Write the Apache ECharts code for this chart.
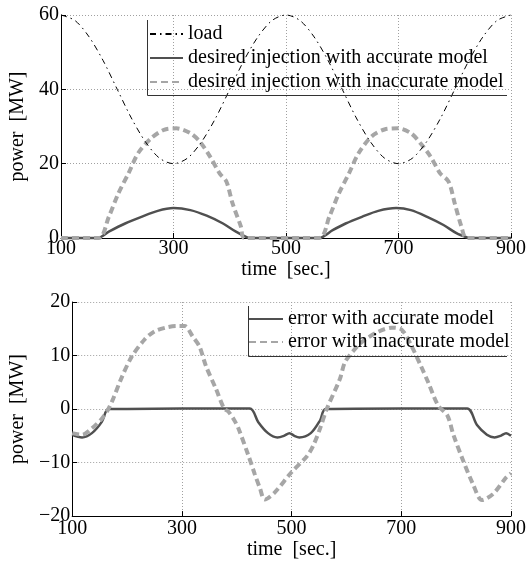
<!DOCTYPE html>
<html>
<head>
<meta charset="utf-8">
<script src="https://cdn.jsdelivr.net/npm/echarts@6/dist/echarts.min.js"></script>
<style>
html,body{margin:0;padding:0;background:#fff;}
#c{width:529px;height:561px;}
</style>
</head>
<body>
<div id="c"></div>
<script>
// ---------- data ----------
const xTicks = [100, 300, 500, 700, 900];

// top panel
const loadT = [100,125,150,175,200,225,250,275,300,325,350,375,400,425,450,475,500,525,550,575,600,625,650,675,700,725,750,775,800,825,850,875,900];
const loadV = [60,58.5,54.1,47.7,40,32.3,25.9,21.5,20,21.5,25.9,32.3,40,47.7,54.1,58.5,60,58.5,54.1,47.7,40,32.3,25.9,21.5,20,21.5,25.9,32.3,40,47.7,54.1,58.5,60];

const accT = [100,165,185,214,243,272,300,330,359,388,411,429,436,559,583,606,635,664,696,722,751,780,803,821,828,900];
const accV = [0,0,1.7,3.9,5.7,7.3,8.05,7.5,6.0,3.9,1.7,0.3,0,0,2.1,3.9,5.7,7.3,8.05,7.5,5.7,3.5,1.3,0.2,0,0];

const inaT = [100,167,185,202,220,237,260,283,305,330,347,365,382,394,405,420,426,559,577,594,612,629,652,675,699,722,739,757,774,789,800,812,821,900];
const inaV = [0,0,5.7,12.0,17.4,22.8,26.8,29.1,29.5,28.2,25.9,21.9,17.4,15.2,9.3,3.0,0,0,5.7,12.0,17.4,22.8,27.3,29.2,29.5,28.2,25.5,21.9,17.4,15.2,9.3,3.0,0,0];

// bottom panel
const errAT = [100,118,136,154,166,200,300,424,439,457,474,486,496,505,514,535,552,562,700,820,838,856,870,881,891,900];
const errAV = [-4.8,-5.3,-4.5,-2.4,0,0,0.1,0.1,-2.4,-4.5,-5.3,-5.0,-4.5,-5.0,-5.3,-4.5,-2.1,0,0.1,0.1,-3.0,-4.8,-5.3,-5.0,-4.5,-5.0];

const errIT = [100,118,136,154,166,175,189,208,232,250,270,290,305,320,332,344,362,377,385,395,403,421,433,442,451,469,499,528,540,552,564,588,597,612,629,659,683,701,719,736,749,767,784,795,813,831,847,867,891,900];
const errIV = [-4.5,-4.8,-3.6,-1.8,0,2.0,5.6,9.7,13.0,14.5,15.2,15.5,15.5,13.5,11.7,8.0,3.8,0.1,-0.5,-2.0,-3.6,-8.6,-12.2,-14.7,-16.9,-15.6,-11.9,-8.8,-6.7,-3.6,0,5.6,8.7,10.8,12.6,14.5,15.2,14.8,11.7,8.0,5.0,0.7,-1.2,-4.8,-9.7,-14.1,-17.0,-15.9,-12.8,-12.0];

const names = {
  load: 'load',
  acc: 'desired injection with accurate model',
  ina: 'desired injection with inaccurate model',
  errA: 'error with accurate model',
  errI: 'error with inaccurate model'
};

// ---------- helpers ----------
const zip = (t, v) => t.map((x, i) => [x, v[i]]);
const FONT = '"Liberation Serif", "Times New Roman", serif';
const GRIDC = '#a0a0a0';
const DARK = '#505050';
const LIGHT = '#a6a6a6';

function xAxis(gridIndex) {
  return {
    type: 'value', gridIndex, min: 100, max: 900, interval: 200,
    name: 'time  [sec.]', nameLocation: 'middle',
    nameGap: gridIndex === 0 ? 11 : 20,
    nameTextStyle: { fontFamily: FONT, fontSize: 20, color: '#000', verticalAlign: 'top' },
    axisLine: { show: true, onZero: false, lineStyle: { color: '#000', width: 1 } },
    axisTick: { show: true, inside: true, length: 5, lineStyle: { color: '#000' } },
    axisLabel: { fontFamily: FONT, fontSize: 20, color: '#000', margin: gridIndex === 0 ? 1 : 3,
      formatter: v => xTicks.includes(v) ? String(v) : '' },
    splitLine: { show: true, lineStyle: { color: GRIDC, width: 1, type: [1, 2] } }
  };
}
function yAxis(gridIndex, min, max, interval, gap) {
  return {
    type: 'value', gridIndex, min, max, interval,
    name: 'power  [MW]', nameLocation: 'middle', nameGap: gap, nameRotate: 90,
    nameTextStyle: { fontFamily: FONT, fontSize: 20, color: '#000' },
    axisLine: { show: true, onZero: false, lineStyle: { color: '#000', width: 1 } },
    axisTick: { show: true, inside: true, length: 5, lineStyle: { color: '#000' } },
    axisLabel: { fontFamily: FONT, fontSize: 20, color: '#000', margin: 2,
      formatter: v => String(v).replace('-', '\u2212') },
    splitLine: { show: true, lineStyle: { color: GRIDC, width: 1, type: [1, 2] } }
  };
}
function line(name, data, xi, color, width, type, z) {
  return {
    type: 'line', name, data, xAxisIndex: xi, yAxisIndex: xi,
    symbol: 'none', smooth: 0.3, z, clip: false,
    lineStyle: { color, width, type },
    itemStyle: { color },
    emphasis: { disabled: true }, animation: false
  };
}

const chart = echarts.init(document.getElementById('c'), null, { renderer: 'canvas' });
const legendText = { fontFamily: FONT, fontSize: 20, color: '#000', lineHeight: 20 };
const hideSym = { color: 'rgba(0,0,0,0)', borderWidth: 0, opacity: 0 };
chart.setOption({
  animation: false,
  backgroundColor: '#fff',
  grid: [
    { left: 53, right: 17, top: 15, height: 223 },
    { left: 63, right: 17, top: 302, height: 217 }
  ],
  xAxis: [xAxis(0), xAxis(1)],
  yAxis: [yAxis(0, 0, 60, 20, 33), yAxis(1, -20, 20, 10, 43)],
  legend: [
    { data: [names.load, names.acc, names.ina], orient: 'vertical', left: 149, top: 24,
      padding: 0, itemWidth: 33, itemHeight: 10, itemGap: 4, textStyle: legendText,
      itemStyle: hideSym, selectedMode: false },
    { data: [names.errA, names.errI], orient: 'vertical', left: 248, top: 309,
      padding: 0, itemWidth: 34, itemHeight: 10, itemGap: 3, textStyle: legendText,
      itemStyle: hideSym, selectedMode: false }
  ],
  graphic: [
    { type: 'polyline', shape: { points: [[147.5, 20], [147.5, 95.5], [507, 95.5]] },
      style: { stroke: '#333', lineWidth: 1, fill: null }, z: 10 },
    { type: 'polyline', shape: { points: [[248.5, 306], [248.5, 356.5], [507, 356.5]] },
      style: { stroke: '#333', lineWidth: 1, fill: null }, z: 10 }
  ],
  series: [
    line(names.load, zip(loadT, loadV), 0, '#000', 1, [6, 4, 1.5, 4], 4),
    line(names.acc, zip(accT, accV), 0, DARK, 2.5, 'solid', 2),
    line(names.ina, zip(inaT, inaV), 0, LIGHT, 4, [7, 4], 3),
    line(names.errA, zip(errAT, errAV), 1, DARK, 2.5, 'solid', 2),
    line(names.errI, zip(errIT, errIV), 1, LIGHT, 4, [7, 4], 3)
  ]
});
</script>
</body>
</html>
